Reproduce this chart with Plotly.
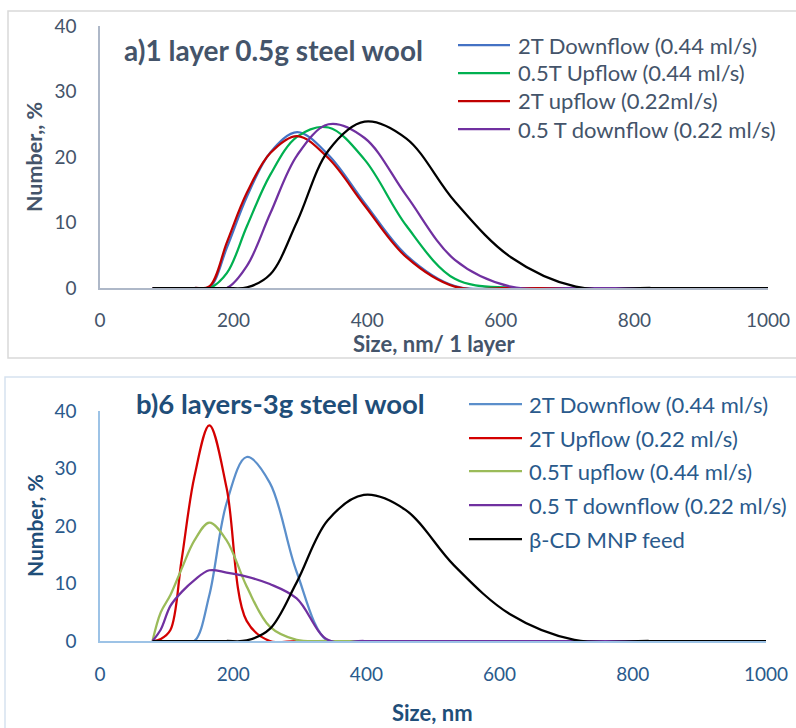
import plotly.graph_objects as go

# ---------------- data ----------------
sizes = [78.82, 91.28, 105.7, 122.4, 141.8, 164.2, 190.1, 220.2, 255.0, 295.3,
         342.0, 396.1, 458.7, 531.2, 615.1, 712.4, 825.0]
feed_sizes = sizes + [955.4, 1106.0]
feed = [0, 0, 0, 0, 0, 0, 0, 0.1, 2.1, 10.2, 21.0, 25.4, 22.8, 13.2, 4.7, 0.2, 0, 0, 0]

# panel a) 1 layer 0.5 g steel wool
a_2t_down_044 = [0, 0, 0, 0, 0, 0.1, 6.2, 14.0, 20.7, 23.8, 20.3, 13.0, 5.0, 0.3, 0, 0, 0]
a_05t_up_044 = [0, 0, 0, 0, 0, 0, 2.3, 9.5, 17.3, 23.1, 24.5, 19.6, 9.5, 1.4, 0, 0, 0]
a_2t_up_022 = [0, 0, 0, 0, 0, 0.3, 7.0, 14.6, 20.6, 23.2, 19.8, 12.6, 4.7, 0.2, 0, 0, 0]
a_05t_down_022 = [0, 0, 0, 0, 0, 0, 0, 3.4, 11.4, 20.3, 25.0, 22.9, 14.1, 4.3, 0.2, 0, 0]

# panel b) 6 layers 3 g steel wool
b_2t_down_044 = [0, 0, 0, 0, 0, 8.0, 24.0, 32.0, 27.5, 12.0, 0, 0, 0, 0, 0, 0, 0]
b_2t_up_022 = [0, 0.35, 1.9, 14.0, 28.6, 37.5, 26.6, 3.5, 0, 0, 0, 0, 0, 0, 0, 0, 0]
b_05t_up_044 = [0, 5.0, 8.0, 12.5, 17.5, 20.6, 17.5, 9.5, 2.5, 0.2, 0, 0, 0, 0, 0, 0, 0]
b_05t_down_022 = [0, 2.0, 6.1, 8.5, 10.6, 12.3, 11.9, 11.2, 9.9, 7.4, 0.2, 0, 0, 0, 0, 0, 0]

x_ticks = [0, 200, 400, 600, 800, 1000]
y_ticks = [0, 10, 20, 30, 40]

names_a = ["2T Downflow (0.44 ml/s)", "0.5T Upflow (0.44 ml/s)",
           "2T upflow (0.22ml/s)", "0.5 T downflow (0.22 ml/s)"]
names_b = ["2T Downflow (0.44 ml/s)", "2T Upflow (0.22 ml/s)",
           "0.5T upflow (0.44 ml/s)", "0.5 T downflow (0.22 ml/s)", "β-CD MNP feed"]

colors_a = ["#4472C4", "#00B050", "#C00000", "#7030A0"]
colors_b = ["#5B8FCB", "#D40000", "#9BBB59", "#7030A0", "#000000"]

title_a = "a)1 layer 0.5g steel wool"
title_b = "b)6 layers-3g steel wool"
xtitle_a = "Size, nm/ 1 layer"
xtitle_b = "Size, nm"
ytitle_a = "Number,, %"
ytitle_b = "Number, %"

# ---------------- layout helpers ----------------
W, H = 796, 728
FONT = "Lato"
TXT_A = "#44546A"
TXT_B = "#1F4E79"
TXT_B2 = "#2A5A8C"


def fx(px):
    return px / W


def fy(py):
    return 1 - py / H


fig = go.Figure()

series_a = [a_2t_down_044, a_05t_up_044, a_2t_up_022, a_05t_down_022]
for vals, nm, c in zip(series_a, names_a, colors_a):
    fig.add_trace(go.Scatter(x=sizes, y=vals, name=nm, mode="lines",
                             line=dict(color=c, width=2.25, shape="spline", smoothing=1),
                             xaxis="x", yaxis="y", showlegend=False))
fig.add_trace(go.Scatter(x=feed_sizes, y=feed, name="β-CD MNP feed", mode="lines",
                         line=dict(color="#000000", width=2.25, shape="spline", smoothing=1),
                         xaxis="x", yaxis="y", showlegend=False))

series_b = [b_2t_down_044, b_2t_up_022, b_05t_up_044, b_05t_down_022]
for vals, nm, c in zip(series_b, names_b[:4], colors_b[:4]):
    fig.add_trace(go.Scatter(x=sizes, y=vals, name=nm, mode="lines",
                             line=dict(color=c, width=2.25, shape="spline", smoothing=1),
                             xaxis="x2", yaxis="y2", showlegend=False))
fig.add_trace(go.Scatter(x=feed_sizes, y=feed, name=names_b[4], mode="lines",
                         line=dict(color=colors_b[4], width=2.25, shape="spline", smoothing=1),
                         xaxis="x2", yaxis="y2", showlegend=False))

common_x = dict(range=[0, 1000], tickvals=x_ticks, showgrid=False, zeroline=False,
                showline=True, linewidth=1.5, ticks="", fixedrange=True, automargin=False)
common_y = dict(range=[0, 40], tickvals=y_ticks, showgrid=False, zeroline=False,
                showline=True, linewidth=1.5, ticks="", fixedrange=True, automargin=False)

fig.update_layout(
    width=W, height=H, autosize=False,
    margin=dict(l=0, r=0, t=0, b=0, pad=0, autoexpand=False),
    paper_bgcolor="white", plot_bgcolor="white",
    showlegend=False,
    font=dict(family=FONT),
    xaxis=dict(domain=[fx(100), fx(768)], anchor="y", linecolor="#AEB8C8",
               tickfont=dict(size=19, color=TXT_A, family=FONT), ticklabelstandoff=14,
               **common_x),
    yaxis=dict(domain=[fy(288), fy(26)], anchor="x", linecolor="#AEB8C8",
               tickfont=dict(size=19, color=TXT_A, family=FONT), ticklabelstandoff=18,
               **common_y),
    xaxis2=dict(domain=[fx(100), fx(766)], anchor="y2", linecolor="#9DC3E6",
                tickfont=dict(size=19, color=TXT_B2, family=FONT), ticklabelstandoff=15,
                **common_x),
    yaxis2=dict(domain=[fy(641), fy(411)], anchor="x2", linecolor="#9DC3E6",
                tickfont=dict(size=19, color=TXT_B2, family=FONT), ticklabelstandoff=18,
                **common_y),
)

shapes = [
    dict(type="rect", xref="paper", yref="paper", x0=fx(8), x1=fx(800), y0=fy(358), y1=fy(11),
         line=dict(color="#D9D9D9", width=1.5), fillcolor="rgba(0,0,0,0)", layer="below"),
    dict(type="rect", xref="paper", yref="paper", x0=fx(5), x1=fx(800), y0=fy(735), y1=fy(377),
         line=dict(color="#D6E2F0", width=1.5), fillcolor="rgba(0,0,0,0)", layer="below"),
]
annotations = []

# legend a
rows_a = [45, 73, 101, 129]
for nm, c, ry in zip(names_a, colors_a, rows_a):
    shapes.append(dict(type="line", xref="paper", yref="paper", x0=fx(458), x1=fx(510),
                       y0=fy(ry), y1=fy(ry), line=dict(color=c, width=2.25)))
    annotations.append(dict(text=nm, xref="paper", yref="paper", x=fx(516), y=fy(ry),
                            xanchor="left", yanchor="middle", showarrow=False,
                            font=dict(size=22, color=TXT_A, family=FONT)))

# legend b
rows_b = [404, 438, 471, 505, 539]
for nm, c, ry in zip(names_b, colors_b, rows_b):
    shapes.append(dict(type="line", xref="paper", yref="paper", x0=fx(469), x1=fx(522),
                       y0=fy(ry), y1=fy(ry), line=dict(color=c, width=2.25)))
    annotations.append(dict(text=nm, xref="paper", yref="paper", x=fx(527), y=fy(ry),
                            xanchor="left", yanchor="middle", showarrow=False,
                            font=dict(size=22, color=TXT_B2, family=FONT)))

# titles
annotations += [
    dict(text="<b>%s</b>" % title_a, xref="paper", yref="paper", x=fx(122), y=fy(50),
         xanchor="left", yanchor="middle", showarrow=False,
         font=dict(size=28, color=TXT_A, family=FONT)),
    dict(text="<b>%s</b>" % title_b, xref="paper", yref="paper", x=fx(134), y=fy(403),
         xanchor="left", yanchor="middle", showarrow=False,
         font=dict(size=27.5, color=TXT_B, family=FONT)),
    dict(text="<b>%s</b>" % xtitle_a, xref="paper", yref="paper", x=fx(435), y=fy(343),
         xanchor="center", yanchor="middle", showarrow=False,
         font=dict(size=22, color=TXT_A, family=FONT)),
    dict(text="<b>%s</b>" % xtitle_b, xref="paper", yref="paper", x=fx(432), y=fy(712),
         xanchor="center", yanchor="middle", showarrow=False,
         font=dict(size=22, color=TXT_B, family=FONT)),
    dict(text="<b>%s</b>" % ytitle_a, xref="paper", yref="paper", x=fx(34), y=fy(157),
         xanchor="center", yanchor="middle", showarrow=False, textangle=-90,
         font=dict(size=21.5, color=TXT_A, family=FONT)),
    dict(text="<b>%s</b>" % ytitle_b, xref="paper", yref="paper", x=fx(34), y=fy(526),
         xanchor="center", yanchor="middle", showarrow=False, textangle=-90,
         font=dict(size=21, color=TXT_B, family=FONT)),
]

fig.update_layout(shapes=shapes, annotations=annotations)
fig.write_html("out.html")
